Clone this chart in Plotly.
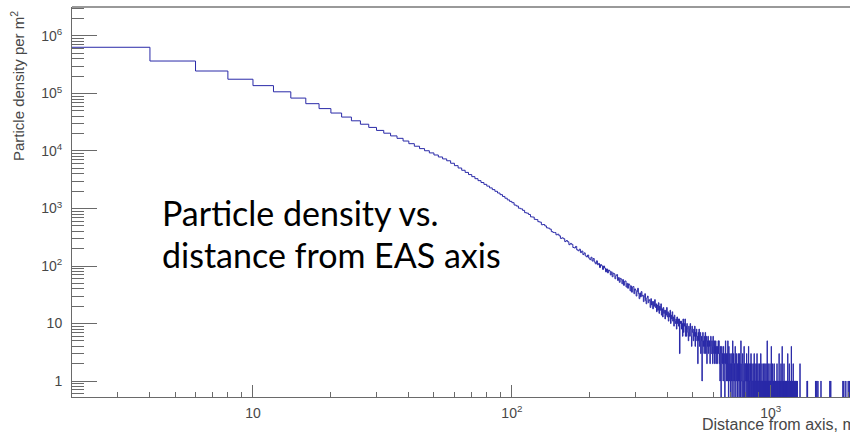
import numpy as np
import plotly.graph_objects as go

# Histogram binning: 2 m wide rings starting at 2 m
R_START = 2.0
BIN_W = 2.0
R_END = 2030.0

# Density per bin, 2-100 m
dens_2_100 = [636000, 367000, 246000, 177000, 137000, 107000, 83200, 66500, 54600, 45700,
              38900, 33500, 29200, 25700, 22800, 20400, 18300, 16600, 14900, 13400,
              12100, 11000, 10100, 9260, 8520, 7870, 7280, 6760, 6120, 5560,
              5060, 4620, 4240, 3890, 3580, 3300, 3050, 2830, 2630, 2450,
              2280, 2130, 1990, 1860, 1740, 1620, 1510, 1410, 1330]

# 100-200 m
dens_100_200 = [1262, 1148, 1104, 1012, 985, 928, 846, 829, 787, 716,
                709, 648, 641, 590, 579, 522, 527, 498, 461, 455,
                437, 396, 384, 381, 349, 357, 335, 302, 309, 298,
                266, 277, 264, 235, 247, 238, 210, 206, 219, 191,
                184, 196, 171, 182, 158, 169, 150, 144, 155, 137]

# 200-300 m
dens_200_300 = [129, 142, 122, 135, 117, 109, 123, 105, 111, 94,
                106, 101, 87, 100, 92, 79, 89, 76, 85, 82,
                70, 79, 65, 75, 73, 60, 68, 71, 56, 63,
                52, 61, 59, 49, 58, 46, 54, 55, 43, 50,
                41, 49, 47, 37, 45, 35, 43, 44, 33, 40]

# 300-500 m
dens_300_500 = [38, 30, 36, 41, 33, 27, 34, 29, 36, 30,
                31, 24, 29, 33, 25, 22, 28, 30, 23, 26,
                25, 19, 27, 21, 24, 18, 24, 20, 26, 19,
                22, 16, 21, 17, 23, 15, 20, 17, 22, 14,
                18, 13, 19, 15, 17, 12, 17, 14, 19, 13,
                16, 11, 15, 13, 17, 10, 14, 12, 16, 11,
                13, 9, 14, 11, 10, 12, 8, 13, 10, 12,
                9, 12, 3, 11, 10, 11, 8, 10, 6, 12,
                7, 10, 9, 12, 6, 9, 6, 10, 8, 7,
                5, 9, 8, 6, 10, 8, 6, 4, 9, 7]

# 500-700 m
dens_500_700 = [7, 5, 8, 6, 9, 4, 7, 6, 8, 5,
                6, 2, 7, 5, 8, 4, 6, 7, 3, 5,
                6, 1, 5, 7, 4, 5, 3, 6, 4, 7,
                3, 5, 6, 2, 5, 4, 6, 3, 5, 4,
                5, 2, 4, 6, 3, 3, 5, 4, 2, 6,
                4, 3, 5, 2, 4, 3, 5, 2, 4, 3,
                2, 4, 3, 5, 3, 5, 2, 3, 1, 4,
                3, 0, 2, 4, 3, 2, 3, 1, 4, 2,
                3, 2, 0, 2, 5, 2, 3, 1, 2, 3,
                1, 5, 2, 0, 4, 2, 1, 3, 2, 0]

# 700-1300 m, 25 bins per row (50 m)
dens_700_1300 = [
    2, 3, 1, 2, 0, 2, 5, 1, 2, 3, 0, 2, 1, 2, 4, 1, 0, 2, 3, 1, 2, 2, 0, 1, 3,
    1, 2, 0, 3, 1, 2, 1, 0, 5, 2, 1, 1, 0, 2, 3, 1, 0, 1, 2, 4, 1, 0, 2, 1, 1,
    2, 0, 1, 3, 1, 0, 2, 1, 1, 0, 4, 1, 2, 0, 1, 1, 0, 2, 1, 3, 0, 1, 2, 0, 1,
    1, 0, 2, 1, 0, 1, 3, 0, 1, 2, 0, 1, 1, 0, 2, 0, 1, 3, 1, 0, 1, 2, 0, 1, 1,
    0, 1, 2, 0, 1, 0, 1, 3, 0, 1, 1, 0, 2, 0, 1, 0, 1, 1, 0, 2, 0, 1, 0, 1, 2,
    1, 0, 1, 0, 2, 0, 1, 1, 0, 5, 0, 1, 0, 2, 1, 0, 1, 0, 1, 1, 0, 2, 0, 1, 0,
    1, 0, 4, 1, 0, 1, 0, 0, 2, 1, 0, 1, 0, 1, 0, 2, 0, 1, 1, 0, 0, 1, 0, 1, 0,
    0, 1, 0, 2, 0, 1, 0, 1, 0, 0, 1, 1, 0, 3, 0, 1, 0, 0, 1, 0, 1, 0, 2, 0, 1,
    1, 0, 0, 4, 0, 1, 0, 1, 0, 0, 1, 0, 2, 0, 1, 0, 0, 1, 0, 1, 0, 0, 1, 0, 1,
    0, 1, 0, 0, 1, 0, 3, 0, 0, 1, 0, 1, 0, 0, 2, 0, 1, 0, 0, 1, 0, 0, 1, 0, 0,
    4, 0, 1, 0, 0, 1, 0, 0, 1, 0, 2, 0, 0, 1, 0, 0, 1, 0, 0, 1, 0, 1, 0, 0, 1,
    0, 1, 0, 0, 1, 0, 0, 0, 1, 0, 0, 0, 0, 0, 0, 0, 0, 0, 0, 0, 0, 0, 0, 2, 0,
]

# Beyond 1300 m only isolated single entries remain: lower bin edges (m)
far_hits_r = [1380, 1386, 1488, 1504, 1520, 1562, 1690, 1704, 1898, 1914, 1948, 1990, 2012]
far_hit_value = 1

# Axis ticks
x_major = [10, 100, 1000]
x_major_text = ["10", "10<sup>2</sup>", "10<sup>3</sup>"]
y_major = [1, 10, 100, 1e3, 1e4, 1e5, 1e6]
y_major_text = ["1", "10", "10<sup>2</sup>", "10<sup>3</sup>", "10<sup>4</sup>",
                "10<sup>5</sup>", "10<sup>6</sup>"]

# ---- assemble the histogram ----
n_bins = int(round((R_END - R_START) / BIN_W))
edges = R_START + BIN_W * np.arange(n_bins + 1)
values = np.zeros(n_bins)
near = np.concatenate([dens_2_100, dens_100_200, dens_200_300,
                       dens_300_500, dens_500_700, dens_700_1300]).astype(float)
values[:len(near)] = near
for r in far_hits_r:
    values[int(round((r - R_START) / BIN_W))] = far_hit_value

# empty bins drop below the bottom of the log axis, as in a ROOT step histogram
floor = 0.05
plot_vals = np.where(values > 0, values, floor)
xs = edges
ys = np.append(plot_vals, plot_vals[-1])

y_lo, y_hi = -0.278, 6.504
x_lo, x_hi = np.log10(2.0), np.log10(2023.0)

x_minor = [m * 10 ** k for k in range(0, 4) for m in range(2, 10) if 2 <= m * 10 ** k <= 2023]
y_minor = [m * 10.0 ** k for k in range(-1, 7) for m in range(2, 10)
           if 10 ** y_lo <= m * 10.0 ** k <= 10 ** y_hi]

fig = go.Figure()
fig.add_trace(go.Scatter(
    x=xs, y=ys, mode="lines",
    line=dict(shape="hv", color="#2a2aa8", width=1),
    hoverinfo="skip",
))

axis_col = "#6a6a6a"
label_font = dict(family="Liberation Sans, Arial, sans-serif", size=14, color="#474747")

fig.update_xaxes(
    type="log", range=[x_lo, x_hi],
    showline=True, linecolor=axis_col, linewidth=1, mirror=False,
    showgrid=False, zeroline=False,
    ticks="inside", ticklen=12, tickwidth=1, tickcolor=axis_col,
    tickmode="array", tickvals=x_major, ticktext=x_major_text,
    tickfont=label_font, ticklabelstandoff=3,
    minor=dict(tickmode="array", tickvals=x_minor, ticks="inside",
               ticklen=5, tickwidth=1, tickcolor=axis_col, showgrid=False),
)
fig.update_yaxes(
    type="log", range=[y_lo, y_hi],
    showline=True, linecolor=axis_col, linewidth=1, mirror=False,
    showgrid=False, zeroline=False,
    ticks="inside", ticklen=25, tickwidth=1, tickcolor=axis_col,
    tickmode="array", tickvals=y_major, ticktext=y_major_text,
    tickfont=label_font, ticklabelstandoff=6,
    minor=dict(tickmode="array", tickvals=y_minor, ticks="inside",
               ticklen=12, tickwidth=1, tickcolor=axis_col, showgrid=False),
)

# top edge of the frame
fig.add_shape(type="line", xref="paper", yref="paper", x0=0, x1=1, y0=1, y1=1,
              line=dict(color="#777777", width=1.5))

plot_left, plot_w, plot_top, plot_h = 72, 778, 7, 390


def px_x(px):
    return (px - plot_left) / plot_w


def px_y(py):
    return (plot_top + plot_h - py) / plot_h


title_font = dict(family="Liberation Sans, Arial, sans-serif", size=15, color="#474747")

fig.add_annotation(text="Particle density per m<sup>2</sup>", textangle=-90,
                   xref="paper", yref="paper", x=px_x(17), y=px_y(9),
                   xanchor="center", yanchor="top", showarrow=False, font=title_font)
fig.add_annotation(text="Distance from axis, m",
                   xref="paper", yref="paper", x=px_x(700), y=px_y(424),
                   xanchor="left", yanchor="middle", showarrow=False,
                   font=dict(family="Liberation Sans, Arial, sans-serif", size=16, color="#474747"))

caption_font = dict(family="Lato, sans-serif", size=34, color="#000000")
fig.add_annotation(text="Particle density vs.", xref="paper", yref="paper",
                   x=px_x(160), y=px_y(212), xanchor="left", yanchor="middle",
                   showarrow=False, font=caption_font)
fig.add_annotation(text="distance from EAS axis", xref="paper", yref="paper",
                   x=px_x(160), y=px_y(255), xanchor="left", yanchor="middle",
                   showarrow=False, font=caption_font)

fig.update_layout(
    width=850, height=434,
    margin=dict(l=plot_left, r=850 - plot_left - plot_w, t=plot_top, b=434 - plot_top - plot_h),
    plot_bgcolor="white", paper_bgcolor="white",
    showlegend=False,
)

fig.write_html("out.html")
